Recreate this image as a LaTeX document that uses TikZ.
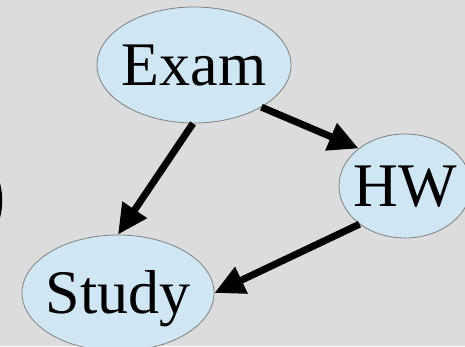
\documentclass[tikz,border=0pt]{standalone}
\usepackage{fontspec}
\setmainfont{Liberation Serif}
\usetikzlibrary{shapes.geometric,arrows.meta}
\definecolor{bg}{RGB}{220,220,220}
\definecolor{nodefill}{RGB}{207,230,244}
\definecolor{nodeline}{RGB}{128,128,128}
\begin{document}
\begin{tikzpicture}[x=1pt,y=-1pt,
  bubble/.style={ellipse,draw=nodeline,line width=0.8pt,fill=nodefill,inner sep=0pt},
  word/.style={inner sep=0pt,text height=41pt,text depth=0pt,font=\fontsize{62}{70}\selectfont},
  link/.style={line width=7pt,-{Triangle[length=30pt,width=28pt]}}]
\fill[bg] (0,0) rectangle (465,346);
\useasboundingbox (0,0) rectangle (465,346);
% partial glyph at left edge
\fill[black] (0,183) .. controls (3,195) and (3,206) .. (0,218) -- cycle;
\node[bubble,minimum width=194pt,minimum height=116pt] (exam) at (194,65) {};
\node[bubble,minimum width=132pt,minimum height=104pt] (hw) at (405,186) {};
\node[bubble,minimum width=192pt,minimum height=116pt] (study) at (118,293) {};
\node[word] (examt) at (exam.center) {Exam};
\node[word] (hwt) at (hw.center) {HW};
\node[word] (studyt) at (study.center) {Study};
\draw[link] (exam.-32) -- (hw.141);
\draw[link] (exam.-91) -- (study.90);
\draw[link] (hw.-140) -- (study.0);
\end{tikzpicture}
\end{document}
